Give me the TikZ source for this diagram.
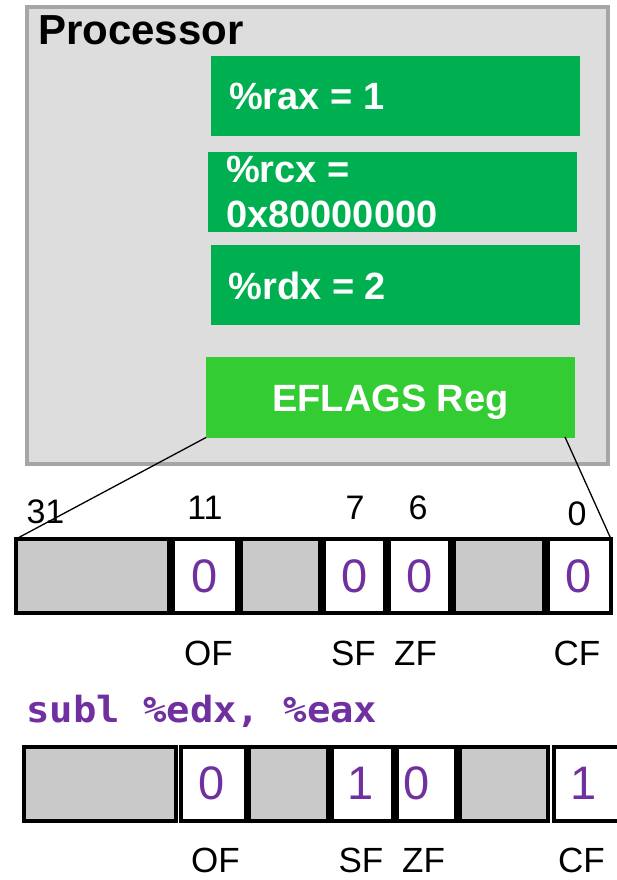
\documentclass[tikz,border=0pt]{standalone}
\usepackage{fontspec}
\setmainfont{Liberation Sans}
\newfontfamily\monob[FakeStretch=1.08]{DejaVu Sans Mono}
\definecolor{procF}{HTML}{DDDDDD}
\definecolor{procB}{HTML}{A6A6A6}
\definecolor{regG}{HTML}{00B050}
\definecolor{efG}{HTML}{33CC33}
\definecolor{cellgray}{HTML}{C9C9C9}
\definecolor{purp}{HTML}{7030A0}
\begin{document}
\begin{tikzpicture}[x=1pt,y=-1pt,
  box/.style={inner sep=0pt, outer sep=0pt, anchor=north west},
  regbox/.style={box, fill=regG},
  regtxt/.style={text=white, font=\fontsize{38}{45}\selectfont\bfseries, inner sep=0pt, anchor=base west},
  cellg/.style={box, draw=black, line width=4pt, fill=cellgray, minimum height=74pt},
  cellw/.style={box, draw=black, line width=4pt, fill=white, minimum height=74pt},
  bit/.style={text=purp, font=\fontsize{47}{47}\selectfont, inner sep=0pt, anchor=center},
  num/.style={font=\fontsize{34}{34}\selectfont, inner sep=0pt, anchor=base},
  flag/.style={font=\fontsize{35}{35}\selectfont, inner sep=0pt, anchor=base},
  conn/.style={draw=black, line width=1.3pt}
]
\useasboundingbox (0,0) rectangle (616,880);
\fill[white] (0,0) rectangle (616,880);

% processor
\node[box, draw=procB, fill=procF, line width=4pt, minimum width=581.5pt, minimum height=457pt] (proc) at (26.5,7) {};
\node[font=\fontsize{42}{42}\selectfont\bfseries, inner sep=0pt, anchor=base west] (proclbl) at (38,45) {Processor};

% registers
\node[regbox, minimum width=369pt, minimum height=80pt] (rax) at (211,56) {};
\node[regtxt] (raxt) at (229,109.3) {\%rax = 1};
\node[regbox, minimum width=369pt, minimum height=80pt] (rcx) at (208,152) {};
\node[regtxt] (rcxt1) at (226,182.7) {\%rcx =};
\node[regtxt] (rcxt2) at (226,227.7) {0x80000000};
\node[regbox, minimum width=369pt, minimum height=79.5pt] (rdx) at (210.5,245) {};
\node[regtxt] (rdxt) at (228.5,299.3) {\%rdx = 2};
\node[box, fill=efG, minimum width=369pt, minimum height=80.5pt] (efl) at (206,357) {};
\node[regtxt, anchor=base] (eflt) at (390.5,411.7) {EFLAGS Reg};

% connectors
\coordinate (eflr) at (565,437);

% register 1: boundaries 14,170.5,239,322,387,452,546,613 ; y 537-615
\node[cellg, minimum width=152.5pt] (a1) at (16,539) {};
\node[cellw, minimum width=64.5pt] (a2) at (172.5,539) {};
\node[cellg, minimum width=79pt] (a3) at (241,539) {};
\node[cellw, minimum width=61pt] (a4) at (324,539) {};
\node[cellw, minimum width=61pt] (a5) at (389,539) {};
\node[cellg, minimum width=90pt] (a6) at (454,539) {};
\node[cellw, minimum width=63pt] (a7) at (548,539) {};

\draw[conn] (efl.south west) -- (a1.north west);
\draw[conn] (eflr) -- (a7.north east);

\node[bit] (a2v) at (204.8,576.5) {0};
\node[bit] (a4v) at (354.5,576.5) {0};
\node[bit] (a5v) at (419.8,576.5) {0};
\node[bit] (a7v) at (579,576.5) {0};

\node[num] (n31) at (45.5,523) {31};
\node[num] (n11) at (205,519.5) {11};
\node[num] (n7) at (355,519.5) {7};
\node[num] (n6) at (418,519.5) {6};
\node[num] (n0) at (577,525) {0};

\node[flag] (f1of) at (208.5,665) {OF};
\node[flag] (f1sf) at (353.5,665) {SF};
\node[flag] (f1zf) at (415.5,665) {ZF};
\node[flag] (f1cf) at (577,665) {CF};

% instruction
\node[text=purp, font=\monob\bfseries\fontsize{36}{36}\selectfont, inner sep=0pt, anchor=base west] (instr) at (26,722) {subl \%edx, \%eax};

% register 2: shifted +7.5 ; y 745-822
\node[cellg, minimum width=152.5pt] (b1) at (23.5,747) {};
\node[cellw, minimum width=64.5pt] (b2) at (181,747) {};
\node[cellg, minimum width=78.5pt] (b3) at (249,747) {};
\node[cellw, minimum width=61.5pt] (b4) at (331.5,747) {};
\node[cellw, minimum width=59pt] (b5) at (397,747) {};
\node[cellg, minimum width=87.5pt] (b6) at (460,747) {};
\node[cellw, minimum width=68pt] (b7) at (553.5,747) {};

\node[bit] (b2v) at (212,783.5) {0};
\node[bit] (b4v) at (361,783.5) {1};
\node[bit] (b5v) at (417,783.5) {0};
\node[bit] (b7v) at (584,783.5) {1};

\node[flag] (f2of) at (215.5,872) {OF};
\node[flag] (f2sf) at (361,872) {SF};
\node[flag] (f2zf) at (423.5,872) {ZF};
\node[flag] (f2cf) at (581.5,872) {CF};
\end{tikzpicture}
\end{document}
